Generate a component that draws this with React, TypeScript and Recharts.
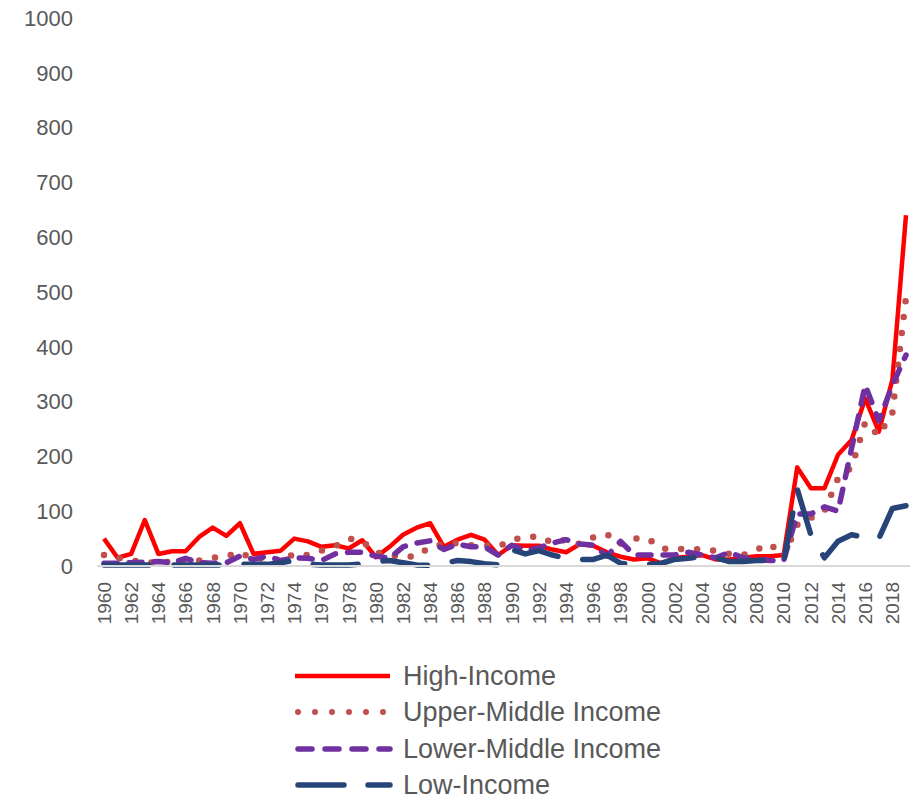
import React from 'react';
import { LineChart, Line, XAxis, YAxis, Legend } from 'recharts';

const years = [
  1960, 1961, 1962, 1963, 1964, 1965, 1966, 1967, 1968, 1969,
  1970, 1971, 1972, 1973, 1974, 1975, 1976, 1977, 1978, 1979,
  1980, 1981, 1982, 1983, 1984, 1985, 1986, 1987, 1988, 1989,
  1990, 1991, 1992, 1993, 1994, 1995, 1996, 1997, 1998, 1999,
  2000, 2001, 2002, 2003, 2004, 2005, 2006, 2007, 2008, 2009,
  2010, 2011, 2012, 2013, 2014, 2015, 2016, 2017, 2018, 2019,
];

const highIncome = [
  50, 15, 22, 84, 22, 27, 27, 53, 70, 55,
  78, 22, 25, 28, 50, 45, 35, 38, 32, 47,
  16, 35, 57, 70, 78, 35, 48, 57, 48, 20,
  38, 37, 37, 30, 25, 40, 37, 25, 17, 12,
  14, 5, 15, 17, 20, 12, 12, 15, 18, 18,
  20, 180, 142, 142, 203, 230, 306, 245, 340, 640,
];

const upperMiddle = [
  20, 15, 10, 7, 6, 8, 10, 10, 15, 18,
  25, 12, 15, 10, 22, 20, 28, 36, 50, 45,
  25, 20, 16, 18, 35, 40, 42, 38, 38, 35,
  48, 52, 54, 42, 48, 40, 52, 58, 40, 50,
  50, 32, 30, 32, 30, 28, 22, 20, 30, 40,
  18, 75, 88, 100, 160, 180, 262, 238, 280, 490,
];

const lowerMiddle = [
  5, 5, 6, 7, 8, 6, 14, 6, 5, 6,
  18, 12, 18, 10, 15, 14, 10, 22, 25, 25,
  18, 14, 35, 42, 46, 30, 40, 35, 35, 20,
  38, 28, 33, 42, 48, 40, 38, 18, 45, 20,
  20, 20, 20, 25, 20, 15, 25, 15, 12, 10,
  10, 95, 95, 108, 100, 215, 330, 265, 330, 385,
];

const lowIncome = [
  2, 2, 2, 2, 2, 2, 2, 2, 2, 2,
  3, 3, 3, 6, 10, 3, 2, 2, 2, 4,
  8, 10, 6, 2, 1, 5, 10, 8, 4, 2,
  30, 22, 28, 20, 14, 12, 12, 20, 5, 2,
  3, 5, 12, 14, 18, 15, 8, 8, 10, 10,
  8, 140, 57, 15, 45, 57, 52, 50, 105, 110,
];

const yTicks = [0, 100, 200, 300, 400, 500, 600, 700, 800, 900, 1000];

const seriesNames = ['High-Income', 'Upper-Middle Income', 'Lower-Middle Income', 'Low-Income'];

const data = years.map((year, i) => ({
  year,
  high: highIncome[i],
  upper: upperMiddle[i],
  lower: lowerMiddle[i],
  low: lowIncome[i],
}));

const FONT = '"Liberation Sans", Arial, sans-serif';
const TEXT = '#595959';

const styles = [
  { key: 'high', color: '#FF0000', width: 4.5, dash: undefined as string | undefined, cap: 'butt' },
  { key: 'upper', color: '#C0504D', width: 6.5, dash: '0 16', cap: 'round' },
  { key: 'lower', color: '#7030A0', width: 5.5, dash: '13 12', cap: 'round' },
  { key: 'low', color: '#264478', width: 5.5, dash: '45 25', cap: 'round' },
];

const XTick = (props: any) => {
  const { x, y, payload } = props;
  return (
    <text
      x={x}
      y={y}
      transform={`rotate(-90, ${x}, ${y})`}
      textAnchor="end"
      dy="0.36em"
      fill={TEXT}
      fontSize={19}
      fontFamily={FONT}
    >
      {payload.value}
    </text>
  );
};

const LegendContent = () => (
  <div style={{ fontFamily: FONT }}>
    {seriesNames.map((name, i) => {
      const s = styles[i];
      return (
        <div key={name} style={{ display: 'flex', alignItems: 'center', height: 36.3 }}>
          <svg width={106} height={20} style={{ display: 'block' }}>
            <line
              x1={s.cap === 'round' ? 5 : 2}
              y1={10}
              x2={s.key === 'upper' ? 91 : 97}
              y2={10}
              stroke={s.color}
              strokeWidth={s.key === 'upper' ? 6 : s.width}
              strokeDasharray={s.key === 'upper' ? '0 17' : s.key === 'lower' ? '14 13' : s.key === 'low' ? '46 24' : undefined}
              strokeLinecap={s.cap as any}
            />
          </svg>
          <span style={{ color: TEXT, fontSize: 27, marginLeft: 4, lineHeight: '28px', whiteSpace: 'nowrap' }}>{name}</span>
        </div>
      );
    })}
  </div>
);

export default function App() {
  return (
    <div style={{ position: 'fixed', left: 0, top: 0, width: 910, height: 800, overflow: 'hidden', background: '#fff' }}>
      <LineChart width={920} height={800} data={data} margin={{ top: 18, right: 7, left: 0, bottom: 0 }}>
        <XAxis
          dataKey="year"
          type="category"
          interval={1}
          height={234}
          padding={{ left: 7, right: 7 }}
          tickLine={false}
          tickSize={0}
          tickMargin={16}
          axisLine={{ stroke: '#D9D9D9', strokeWidth: 2 }}
          tick={<XTick />}
        />
        <YAxis
          type="number"
          domain={[0, 1000]}
          ticks={yTicks}
          width={97}
          axisLine={false}
          tickLine={false}
          tickSize={0}
          tickMargin={24}
          interval={0}
          tick={{ fill: TEXT, fontSize: 22, fontFamily: FONT }}
        />
        {styles.map((s, i) => (
          <Line
            key={s.key}
            dataKey={s.key}
            name={seriesNames[i]}
            type="linear"
            stroke={s.color}
            strokeWidth={s.width}
            strokeDasharray={s.dash}
            strokeLinecap={s.cap as any}
            strokeLinejoin="round"
            dot={false}
            activeDot={false}
            isAnimationActive={false}
          />
        ))}
        <Legend
          layout="vertical"
          verticalAlign="middle"
          align="center"
          wrapperStyle={{ left: 293, top: 658, width: 440 }}
          content={<LegendContent />}
        />
      </LineChart>
    </div>
  );
}
